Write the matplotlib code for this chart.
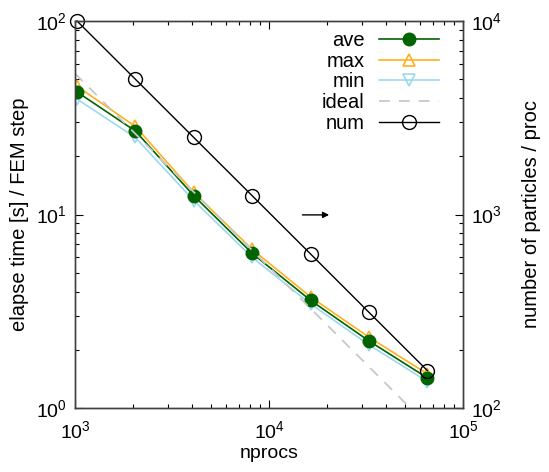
import matplotlib
matplotlib.use("Agg")
import matplotlib.pyplot as plt

plt.rcParams['font.family'] = ['Liberation Sans', 'DejaVu Sans']
plt.rcParams['mathtext.fontset'] = 'custom'
plt.rcParams['mathtext.rm'] = 'Liberation Sans'
plt.rcParams['mathtext.it'] = 'Liberation Sans'

nprocs = [1024, 2048, 4096, 8192, 16384, 32768, 65536]
ave = [43.0, 27.0, 12.5, 6.3, 3.6, 2.22, 1.43]
tmax = [46.0, 28.5, 13.0, 6.6, 3.75, 2.32, 1.50]
tmin = [39.5, 25.0, 11.8, 6.0, 3.45, 2.12, 1.37]
ideal_x = [1000, 100000]
ideal_y = [53.5, 0.535]
num = [10000, 5000, 2500, 1250, 625, 312, 156]

fig = plt.figure(figsize=(5.49, 4.72), dpi=100)
ax = fig.add_axes([75/549, 64/472, 388/549, 387/472])
ax2 = ax.twinx()

l_max, = ax.plot(nprocs, tmax, color='#FFB020', lw=1.2, marker='^', ms=8,
                 mfc='none', mec='#FFB020', mew=1.2, label='max')
l_min, = ax.plot(nprocs, tmin, color='#9ED8F0', lw=1.2, marker='v', ms=8,
                 mfc='none', mec='#9ED8F0', mew=1.2, label='min')
l_ave, = ax.plot(nprocs, ave, color='#006400', lw=1.2, marker='o', ms=9,
                 mfc='#006400', mec='#006400', label='ave')
l_id, = ax.plot(ideal_x, ideal_y, color='#C8C8C8', lw=1.3, ls=(0, (6, 5)), label='ideal')
l_num, = ax2.plot(nprocs, num, color='black', lw=1.0, marker='o', ms=10,
                  mfc='none', mec='black', mew=1.0, label='num', clip_on=False)

ax.set_xscale('log')
ax.set_yscale('log')
ax2.set_yscale('log')
ax.set_xlim(1000, 100000)
ax.set_ylim(1, 100)
ax2.set_ylim(100, 10000)

for a in (ax, ax2):
    a.tick_params(which='both', direction='in', labelsize=14)
    a.tick_params(which='major', length=6, width=0.8)
    a.tick_params(which='minor', length=3, width=0.8)
ax.tick_params(axis='x', which='both', top=True, pad=9)
ax.tick_params(axis='y', which='both', right=False, pad=6)
ax2.tick_params(axis='y', which='both', pad=6)
for a in (ax, ax2):
    for s in a.spines.values():
        s.set_color('#404040')
        s.set_linewidth(1.0)

ax.set_xlabel('nprocs', fontsize=14, labelpad=2)
ax.set_ylabel('elapse time [s] / FEM step', fontsize=14.5, labelpad=5)
ax2.set_ylabel('number of particles / proc', fontsize=14.5, labelpad=14)

ax.annotate('', xy=(0.655, 0.499), xytext=(0.586, 0.499), xycoords='axes fraction',
            arrowprops=dict(arrowstyle='-|>', color='black', lw=1.0,
                            mutation_scale=9, shrinkA=0, shrinkB=0))

leg = ax2.legend([l_ave, l_max, l_min, l_id, l_num],
                 ['ave', 'max', 'min', 'ideal', 'num'],
                 loc='upper right', bbox_to_anchor=(0.975, 1.01), frameon=False,
                 markerfirst=False, fontsize=14.5, handlelength=3.0,
                 labelspacing=0.08, handletextpad=0.7, borderpad=0.2)
for t in leg.get_texts():
    t.set_ha('right')

fig.savefig('out.png', dpi=100)
